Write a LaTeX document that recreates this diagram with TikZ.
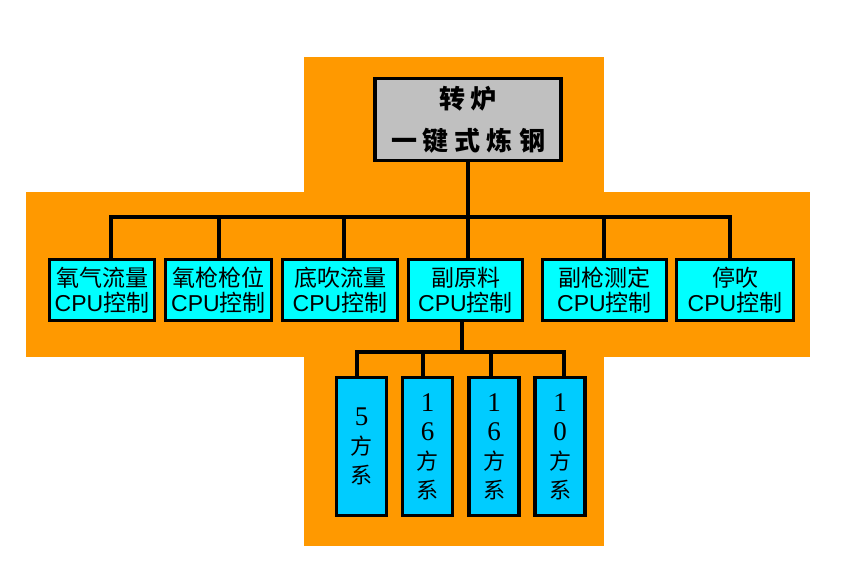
\documentclass[tikz,border=0pt]{standalone}
\usepackage{fontspec}
\setmainfont{Liberation Sans}
\newfontfamily\cjk{Noto Sans CJK SC}
\newfontfamily\serifdigits{Liberation Serif}
\newcommand\dg[1]{{\serifdigits\fontsize{27}{29}\selectfont #1}}
\definecolor{bgorange}{HTML}{FF9900}
\definecolor{topgray}{HTML}{C0C0C0}
\definecolor{cpucyan}{HTML}{00FFFF}
\definecolor{subblue}{HTML}{00CCFF}
\tikzset{
  conn/.style={draw=black, line width=3.3pt, line join=miter, line cap=rect},
  topbox/.style={draw=black, line width=3.3pt, fill=topgray, inner sep=0pt,
    minimum width=186pt, minimum height=82pt, align=center,
    font=\cjk\bfseries\fontsize{26}{42}\selectfont},
  cpubox/.style={draw=black, line width=3.3pt, fill=cpucyan, inner sep=0pt,
    minimum height=61pt, align=center, font=\fontsize{23}{25}\selectfont},
  subbox/.style={draw=black, line width=3.3pt, fill=subblue, inner sep=0pt,
    minimum width=50pt, minimum height=138pt, align=center, font=\fontsize{22}{29}\selectfont}
}
\begin{document}
\begin{tikzpicture}[x=1pt,y=-1pt]
\useasboundingbox (0,0) rectangle (845,576);
% orange cross background
\fill[bgorange] (304,57) rectangle (604,546);
\fill[bgorange] (26,192) rectangle (810,357);
% top box
\node[topbox] (top) at (468,119.5) {转\hspace{6pt}炉\\一\hspace{6pt}键\hspace{6pt}式\hspace{6pt}炼\hspace{6pt}钢};
% CPU boxes
\node[cpubox, minimum width=105pt] (c1) at (102,290) {{\cjk 氧气流量}\\CPU{\cjk 控制}};
\node[cpubox, minimum width=106pt] (c2) at (218.5,290) {{\cjk 氧枪枪位}\\CPU{\cjk 控制}};
\node[cpubox, minimum width=115pt] (c3) at (340,290) {{\cjk 底吹流量}\\CPU{\cjk 控制}};
\node[cpubox, minimum width=114pt] (c4) at (465.5,290) {{\cjk 副原料}\\CPU{\cjk 控制}};
\node[cpubox, minimum width=124pt] (c5) at (604.5,290) {{\cjk 副枪测定}\\CPU{\cjk 控制}};
\node[cpubox, minimum width=117pt] (c6) at (735,290) {{\cjk 停吹}\\CPU{\cjk 控制}};
% sub boxes
\node[subbox] (s1) at (361.5,446.5) {\dg{5}\\{\cjk 方}\\{\cjk 系}};
\node[subbox] (s2) at (427.5,446.5) {\dg{1}\\\dg{6}\\{\cjk 方}\\{\cjk 系}};
\node[subbox] (s3) at (494,446.5) {\dg{1}\\\dg{6}\\{\cjk 方}\\{\cjk 系}};
\node[subbox] (s4) at (560,446.5) {\dg{1}\\\dg{0}\\{\cjk 方}\\{\cjk 系}};
% upper bus
\coordinate (busL) at (111,217);
\coordinate (busR) at (730,217);
\coordinate (d2) at (219,217);
\coordinate (d3) at (344,217);
\coordinate (d5) at (604,217);
\draw[conn] (top.south) -- (top.south |- busL);
\draw[conn] (busL |- c1.north) -- (busL) -- (busR) -- (busR |- c6.north);
\draw[conn] (d2) -- (d2 |- c2.north);
\draw[conn] (d3) -- (d3 |- c3.north);
\draw[conn] (top.south |- busL) -- (top.south |- c4.north);
\draw[conn] (d5) -- (d5 |- c5.north);
% lower bus
\coordinate (lbusL) at (357,352);
\coordinate (lbusR) at (564,352);
\coordinate (e2) at (423,352);
\coordinate (e3) at (491,352);
\coordinate (e0) at (462,352);
\draw[conn] (e0 |- c4.south) -- (e0);
\draw[conn] (lbusL |- s1.north) -- (lbusL) -- (lbusR) -- (lbusR |- s4.north);
\draw[conn] (e2) -- (e2 |- s2.north);
\draw[conn] (e3) -- (e3 |- s3.north);
\end{tikzpicture}
\end{document}
